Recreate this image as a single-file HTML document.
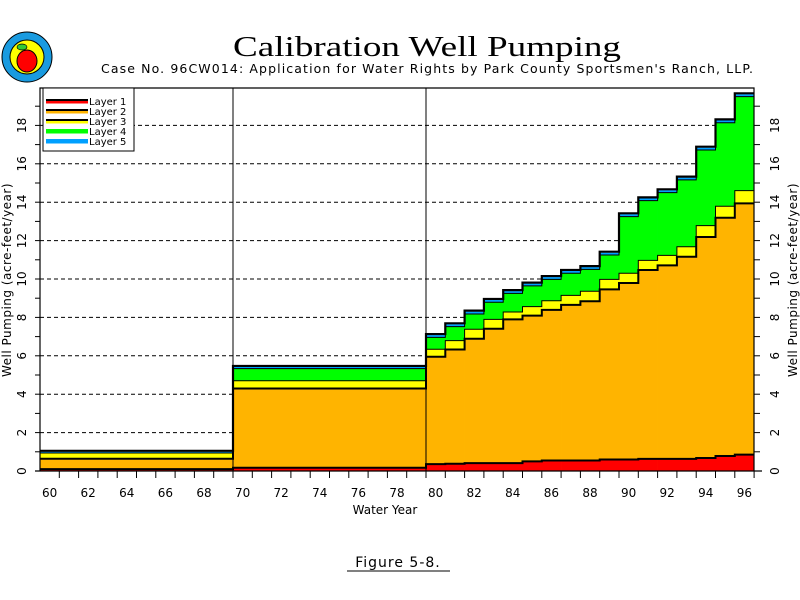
<!DOCTYPE html>
<html><head><meta charset="utf-8"><style>
body{margin:0;background:#fff;width:800px;height:600px;overflow:hidden}
svg{display:block}
text{font-family:"DejaVu Sans","Liberation Sans",sans-serif;fill:#000}
</style></head><body>
<svg id="s" width="800" height="600" viewBox="0 0 800 600" xmlns="http://www.w3.org/2000/svg">
<circle cx="27" cy="57" r="25" fill="#1a9be0" stroke="#000" stroke-width="1"/>
<circle cx="27" cy="57" r="17" fill="#ffff00" stroke="#000" stroke-width="1"/>
<ellipse cx="27" cy="61" rx="10" ry="11" fill="#ff0000" stroke="#000"/>
<ellipse cx="22" cy="47" rx="5" ry="3" fill="#33cc33" stroke="#000" stroke-width="0.7"/>
<text x="427" y="56" text-anchor="middle" textLength="388" lengthAdjust="spacingAndGlyphs" style="font-family:'Liberation Serif',serif;font-size:28px">Calibration Well Pumping</text>
<text x="427" y="73" text-anchor="middle" textLength="652" lengthAdjust="spacing" style="font-size:12.5px">Case No. 96CW014: Application for Water Rights by Park County Sportsmen's Ranch, LLP.</text>
<g id="g"></g>
<text x="398" y="567" text-anchor="middle" style="font-size:14px;letter-spacing:1px">Figure 5-8.</text>
<line x1="347" y1="571" x2="450" y2="571" stroke="#000"/>
</svg>
<script>
var g=document.getElementById('g'),h='';
function X(yr){return 40+(yr-60)*19.3}
function Y(v){return 471-v*19.2}
var seg=[[60,70,[0.1,0.64,0.94,0.94,1.0]],[70,80,[0.17,4.3,4.7,5.33,5.42]]];
var red=[.36,.38,.41,.41,.41,.5,.55,.55,.55,.6,.6,.63,.63,.63,.68,.78,.85];
var ora=[5.95,6.33,6.89,7.41,7.9,8.09,8.39,8.65,8.84,9.46,9.79,10.47,10.71,11.16,12.19,13.19,13.94];
var yel=[6.34,6.79,7.38,7.9,8.28,8.56,8.87,9.15,9.36,9.98,10.3,10.97,11.23,11.68,12.78,13.79,14.6];
var gre=[6.96,7.52,8.18,8.79,9.25,9.64,9.98,10.3,10.5,11.25,13.25,14.08,14.5,15.16,16.72,18.14,19.5];
for(var i=0;i<17;i++)seg.push([80+i,81+i,[red[i],ora[i],yel[i],gre[i],gre[i]+0.12]]);
var cols=['#ff0000','#ffb400','#ffff00','#00ff00','#00a0ff'];
for(var v=2;v<=18;v+=2)h+='<line x1="40" x2="754" y1="'+Y(v)+'" y2="'+Y(v)+'" stroke="#000" stroke-dasharray="4,3" stroke-width="1"/>';
for(var k=4;k>=0;k--){
 seg.forEach(function(s){var t=s[2][k];h+='<rect x="'+X(s[0])+'" y="'+Y(t)+'" width="'+(X(s[1])-X(s[0])+0.3)+'" height="'+(471-Y(t))+'" fill="'+cols[k]+'"/>';});
}
function line(k,w,off){var p='';seg.forEach(function(s,i){var y=Y(s[2][k])-(off||0);p+=(i?'L':'M')+X(s[0])+' '+y+'L'+X(s[1])+' '+y;});h+='<path d="'+p+'" fill="none" stroke="#000" stroke-width="'+w+'"/>';}
line(0,2);line(1,2);line(2,1);line(3,1);line(4,2.2,1);
h+='<line x1="233" x2="233" y1="88" y2="471" stroke="#000"/><line x1="426" x2="426" y1="88" y2="471" stroke="#000"/>';
h+='<path d="M40 471V88H754V471" fill="none" stroke="#000" stroke-width="1.2"/><line x1="35" x2="762" y1="471" y2="471" stroke="#000" stroke-width="1.2"/>';
for(var v=1;v<=19;v++){h+='<line x1="35" x2="40" y1="'+Y(v)+'" y2="'+Y(v)+'" stroke="#000"/><line x1="754" x2="760" y1="'+Y(v)+'" y2="'+Y(v)+'" stroke="#000"/>';}
for(var yr=61;yr<=97;yr++)h+='<line x1="'+X(yr)+'" x2="'+X(yr)+'" y1="471" y2="478" stroke="#000"/>';
for(var yr=60;yr<=96;yr+=2)h+='<text x="'+(X(yr)+9.6)+'" y="497" text-anchor="middle" style="font-size:12px">'+yr+'</text>';
for(var v=0;v<=18;v+=2){var y=Y(v);
 h+='<text transform="translate(26,'+y+') rotate(-90)" text-anchor="middle" style="font-size:12px">'+v+'</text>';
 h+='<text transform="translate(779,'+y+') rotate(-90)" text-anchor="middle" style="font-size:12px">'+v+'</text>';}
h+='<text x="385" y="514" text-anchor="middle" style="font-size:12px">Water Year</text>';
h+='<text transform="translate(11,280) rotate(-90)" text-anchor="middle" style="font-size:12px;letter-spacing:0.5px">Well Pumping (acre-feet/year)</text>';
h+='<text transform="translate(797,280) rotate(-90)" text-anchor="middle" style="font-size:12px;letter-spacing:0.5px">Well Pumping (acre-feet/year)</text>';
h+='<rect x="43" y="88" width="91" height="63" fill="#fff" stroke="#000"/>';
var lc=[['#000','#ff0000'],['#000','#ffb400'],['#000','#ffff00'],['#00ff00','#00ff00'],['#00a0ff','#00a0ff']];
for(var i=0;i<5;i++){var y=101+i*10;
 h+='<rect x="46" y="'+(y-2)+'" width="42" height="2" fill="'+lc[i][0]+'"/><rect x="46" y="'+y+'" width="42" height="2.5" fill="'+lc[i][1]+'"/>';
 h+='<text x="89" y="'+(y+4)+'" style="font-size:10px">Layer  '+(i+1)+'</text>';}
g.innerHTML=h;
</script>
</body></html>
